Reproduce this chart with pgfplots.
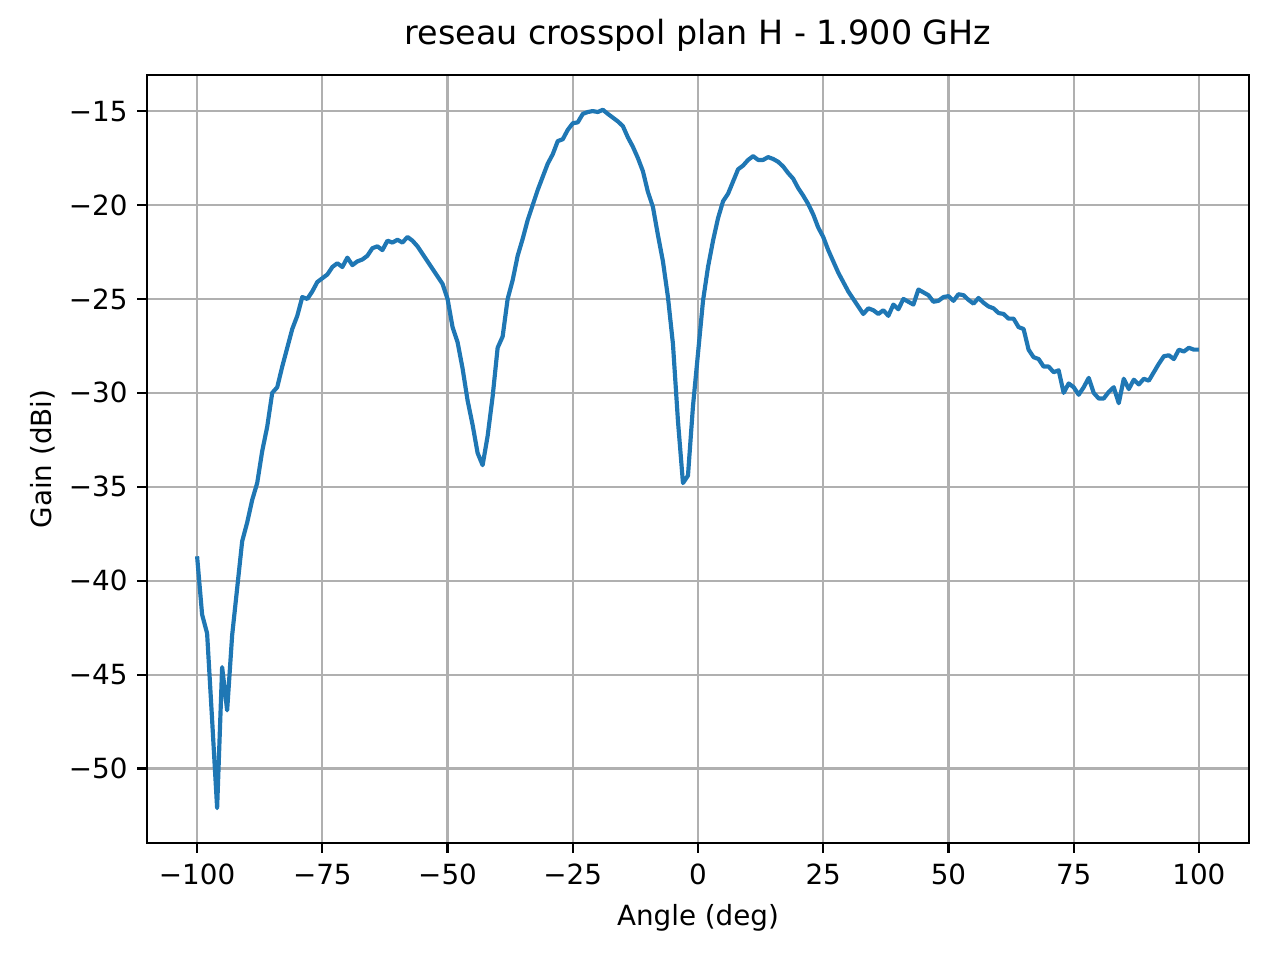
\documentclass[border=0pt]{standalone}
\usepackage{fontspec}
\setmainfont{DejaVu Sans}
\usepackage{pgfplots}
\pgfplotsset{compat=1.18}
\definecolor{mplblue}{HTML}{1F77B4}
\definecolor{mplgrid}{HTML}{B0B0B0}
\begin{document}
\begin{tikzpicture}[x=1pt,y=1pt]
\begin{axis}[
  at={(0,0)}, anchor=south west,
  scale only axis,
  width=396.72pt, height=276.48pt,
  xmin=-110, xmax=110,
  ymin=-53.96, ymax=-13.08,
  xtick={-100,-75,-50,-25,0,25,50,75,100},
  xticklabels={−100,−75,−50,−25,0,25,50,75,100},
  ytick={-50,-45,-40,-35,-30,-25,-20,-15},
  yticklabels={−50,−45,−40,−35,−30,−25,−20,−15},
  xtick pos=bottom, ytick pos=left,
  grid=major,
  major grid style={mplgrid, line width=0.8pt},
  axis line style={black, line width=0.8pt},
  axis on top=false,
  tick align=outside,
  major tick length=3.5pt,
  every tick/.style={black, line width=0.8pt},
  tick label style={font=\fontsize{10}{12}\selectfont},
  xticklabel style={yshift=-0.5pt},
  xlabel={Angle (deg)},
  ylabel={Gain (dBi)},
  label style={font=\fontsize{10}{12}\selectfont},
  ylabel style={yshift=-1.8pt},
  title={reseau crosspol plan H - 1.900 GHz},
  title style={font=\fontsize{12}{14}\selectfont, yshift=-1pt},
]
\addplot[mplblue, line width=1.5pt, line join=round] table {
x y
-100 -38.7
-99 -41.8
-98 -42.8
-97 -47.4
-96 -52.1
-95 -44.6
-94 -46.9
-93 -42.9
-92 -40.4
-91 -37.9
-90 -36.9
-89 -35.7
-88 -34.8
-87 -33.1
-86 -31.8
-85 -30.0
-84 -29.7
-83 -28.6
-82 -27.6
-81 -26.6
-80 -25.9
-79 -24.9
-78 -25.0
-77 -24.6
-76 -24.1
-75 -23.9
-74 -23.7
-73 -23.3
-72 -23.1
-71 -23.3
-70 -22.8
-69 -23.2
-68 -23.0
-67 -22.9
-66 -22.7
-65 -22.3
-64 -22.2
-63 -22.4
-62 -21.9
-61 -22.0
-60 -21.85
-59 -22.0
-58 -21.7
-57 -21.9
-56 -22.2
-55 -22.6
-54 -23.0
-53 -23.4
-52 -23.8
-51 -24.2
-50 -25.0
-49 -26.5
-48 -27.3
-47 -28.7
-46 -30.4
-45 -31.7
-44 -33.2
-43 -33.85
-42 -32.3
-41 -30.2
-40 -27.6
-39 -27.0
-38 -25.0
-37 -24.0
-36 -22.7
-35 -21.8
-34 -20.8
-33 -20.0
-32 -19.2
-31 -18.5
-30 -17.8
-29 -17.3
-28 -16.6
-27 -16.5
-26 -16.0
-25 -15.65
-24 -15.6
-23 -15.15
-22 -15.05
-21 -15.0
-20 -15.05
-19 -14.93
-18 -15.15
-17 -15.35
-16 -15.55
-15 -15.8
-14 -16.4
-13 -16.9
-12 -17.5
-11 -18.2
-10 -19.3
-9 -20.1
-8 -21.6
-7 -23.0
-6 -24.9
-5 -27.4
-4 -31.5
-3 -34.8
-2 -34.4
-1 -30.7
0 -27.9
1 -25.1
2 -23.3
3 -21.9
4 -20.7
5 -19.8
6 -19.4
7 -18.75
8 -18.1
9 -17.9
10 -17.6
11 -17.4
12 -17.6
13 -17.6
14 -17.45
15 -17.55
16 -17.7
17 -17.95
18 -18.3
19 -18.6
20 -19.1
21 -19.5
22 -19.95
23 -20.5
24 -21.2
25 -21.7
26 -22.4
27 -23.0
28 -23.6
29 -24.1
30 -24.6
31 -25.0
32 -25.4
33 -25.8
34 -25.5
35 -25.6
36 -25.8
37 -25.6
38 -25.9
39 -25.3
40 -25.55
41 -25.0
42 -25.15
43 -25.3
44 -24.5
45 -24.65
46 -24.8
47 -25.15
48 -25.1
49 -24.9
50 -24.85
51 -25.1
52 -24.75
53 -24.8
54 -25.05
55 -25.25
56 -24.95
57 -25.2
58 -25.4
59 -25.5
60 -25.75
61 -25.8
62 -26.05
63 -26.05
64 -26.5
65 -26.6
66 -27.7
67 -28.1
68 -28.2
69 -28.6
70 -28.6
71 -28.9
72 -28.8
73 -30.0
74 -29.5
75 -29.7
76 -30.1
77 -29.7
78 -29.2
79 -30.0
80 -30.3
81 -30.3
82 -29.95
83 -29.7
84 -30.55
85 -29.25
86 -29.8
87 -29.3
88 -29.55
89 -29.25
90 -29.35
91 -28.9
92 -28.45
93 -28.05
94 -28.0
95 -28.2
96 -27.7
97 -27.8
98 -27.6
99 -27.7
100 -27.7
};
\end{axis}
\pgfresetboundingbox
\useasboundingbox (-52.92pt,-42.12pt) rectangle (407.88pt,303.48pt);
\end{tikzpicture}
\end{document}
